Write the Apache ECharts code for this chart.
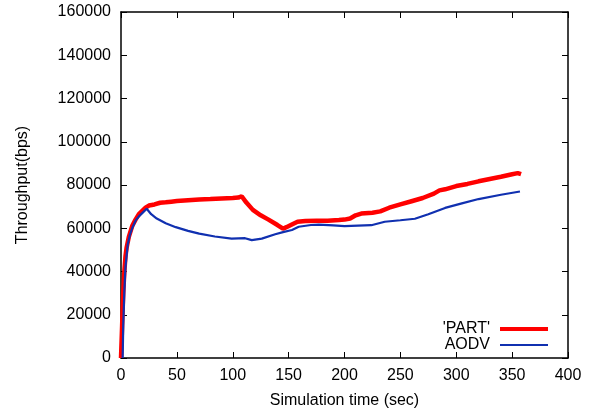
<!DOCTYPE html>
<html>
<head>
<meta charset="utf-8">
<script src="https://cdn.jsdelivr.net/npm/echarts@6/dist/echarts.min.js"></script>
<style>html,body{margin:0;padding:0;background:#fff}#c{width:600px;height:414px}</style>
</head>
<body>
<div id="c"></div>
<script>
var partTime = [0,1,2,3,4,5,7,10,13,16,19,22,25,30,35,40,45,50,60,70,80,90,100,105,108,112,118,125,132,140,145,148,152,158,165,175,185,195,200,205,210,215,225,232,240,250,260,270,280,285,290,300,310,320,330,340,350,355,358];
var partValue = [0,15000,30000,40000,47000,51000,56000,61000,64000,66500,68000,69500,70500,71000,71800,72000,72300,72600,73000,73300,73500,73800,74000,74200,74800,72000,68500,66000,64000,61500,59800,60500,61500,63000,63300,63500,63500,63800,64000,64500,66000,66800,67200,67800,69500,71000,72500,74000,76000,77500,78000,79500,80500,81700,82800,83800,85000,85500,85000];
var aodvTime = [1.5,2,3,4,6,8,10,13,16,19,23,27,32,40,49,60,70,84,99,111,117,126,138,145,153,159,170,177,190,200,212,224,236,250,263,275,290,305,320,340,357];
var aodvValue = [0,15000,31000,42000,52500,57000,60000,63500,65500,67000,69000,66500,64500,62300,60500,58800,57500,56200,55200,55400,54500,55200,57200,58200,59200,60700,61500,61700,61300,61000,61200,61400,63000,63700,64400,66500,69400,71500,73500,75500,77000];
var xTicks = {min:0, max:400, interval:50};
var yTicks = {min:0, max:160000, interval:20000};

function pairs(t, v){ return t.map(function(x,i){ return [x, v[i]]; }); }

var font = 'Liberation Sans, Arial, sans-serif';
var chart = echarts.init(document.getElementById('c'), null, {renderer:'canvas'});
var axisLine = {show:true, onZero:false, lineStyle:{color:'#000', width:1.5}};
var tick = {show:true, inside:true, length:6, lineStyle:{color:'#000', width:1}};
var plain = function(v){ return String(v); };
var legendText = {fontFamily:font, fontSize:16, color:'#000', padding:[0,5,0,0]};
chart.setOption({
  animation:false,
  backgroundColor:'#fff',
  grid:{left:121, top:12, right:32, bottom:53, containLabel:false},
  legend:[{
    orient:'vertical', right:52, top:321, align:'right', padding:0,
    itemWidth:48, itemHeight:4, icon:'rect', itemGap:0,
    textStyle:legendText, data:["'PART'"]
  },{
    orient:'vertical', right:52, top:337, align:'right', padding:0,
    itemWidth:48, itemHeight:2, icon:'rect', itemGap:0,
    textStyle:legendText, data:['AODV']
  }],
  xAxis:[{
    type:'value', min:xTicks.min, max:xTicks.max, interval:xTicks.interval,
    name:'Simulation time (sec)', nameLocation:'middle', nameGap:35,
    nameTextStyle:{fontFamily:font, fontSize:16, color:'#000'},
    axisLine:axisLine, axisTick:tick, splitLine:{show:false},
    axisLabel:{fontFamily:font, fontSize:16, color:'#000', margin:10, formatter:plain}
  },{
    type:'value', position:'top', min:xTicks.min, max:xTicks.max, interval:xTicks.interval,
    axisLine:axisLine, axisTick:tick, splitLine:{show:false}, axisLabel:{show:false}
  }],
  yAxis:[{
    type:'value', min:yTicks.min, max:yTicks.max, interval:yTicks.interval,
    name:'Throughput(bps)', nameLocation:'middle', nameGap:90, nameRotate:90,
    nameTextStyle:{fontFamily:font, fontSize:16, color:'#000'},
    axisLine:axisLine, axisTick:tick, splitLine:{show:false},
    axisLabel:{fontFamily:font, fontSize:16, color:'#000', margin:10, formatter:plain}
  },{
    type:'value', position:'right', min:yTicks.min, max:yTicks.max, interval:yTicks.interval,
    axisLine:axisLine, axisTick:tick, splitLine:{show:false}, axisLabel:{show:false}
  }],
  series:[{
    name:"'PART'", type:'line', data:pairs(partTime, partValue),
    showSymbol:false, symbol:'none', smooth:false,
    lineStyle:{color:'#ff0000', width:4.5}, itemStyle:{color:'#ff0000'}, z:2
  },{
    name:'AODV', type:'line', data:pairs(aodvTime, aodvValue),
    showSymbol:false, symbol:'none', smooth:false,
    lineStyle:{color:'#1030b0', width:2.2}, itemStyle:{color:'#1030b0'}, z:3
  }]
});
</script>
</body>
</html>
